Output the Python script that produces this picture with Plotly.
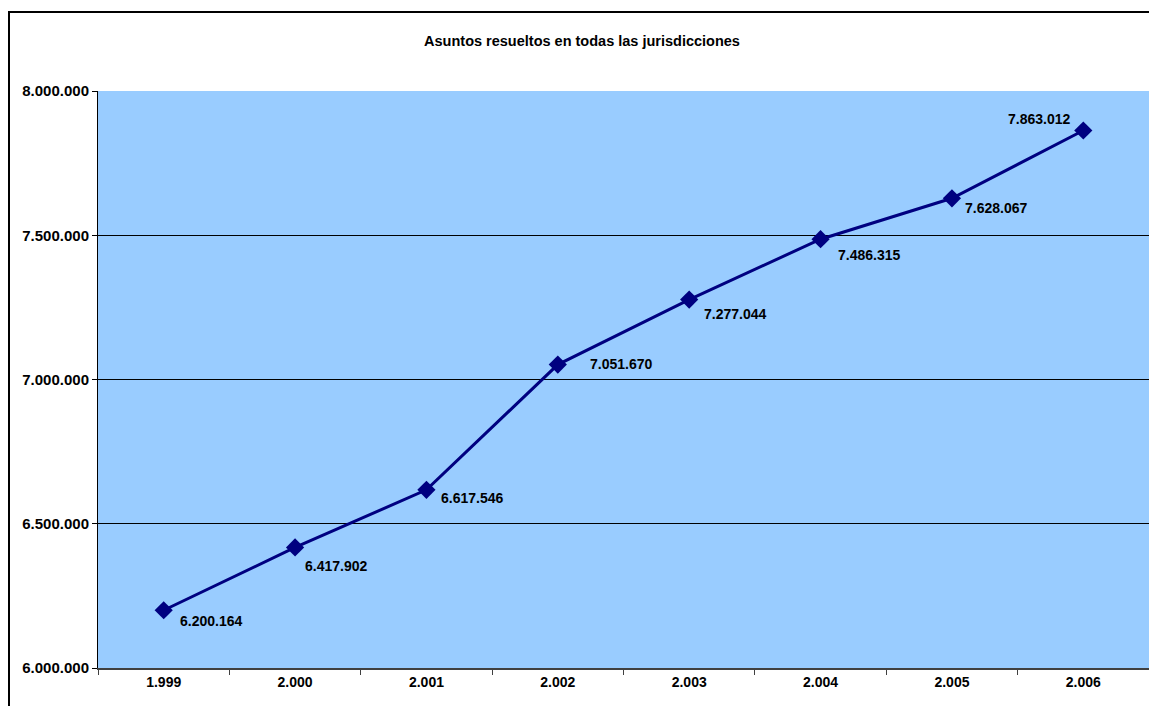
import plotly.graph_objects as go

years = ["1.999", "2.000", "2.001", "2.002", "2.003", "2.004", "2.005", "2.006"]
values = [6200164, 6417902, 6617546, 7051670, 7277044, 7486315, 7628067, 7863012]
y_ticks = [6000000, 6500000, 7000000, 7500000, 8000000]
y_tick_labels = ["6.000.000", "6.500.000", "7.000.000", "7.500.000", "8.000.000"]
title_text = "Asuntos resueltos en todas las jurisdicciones"

# label placement (pixel offsets from each point), style only
label_dx = [14, 8, 13, 30, 13, 15, 11, -11]
label_dy = [11, 19, 8, -1, 14, 16, 10, -12]
label_anchor = ["left"] * 7 + ["right"]


def fmt(v):
    return f"{v:,}".replace(",", ".")


labels = [fmt(v) for v in values]

FONT = "Liberation Sans, Arial"
W, H = 1149, 706
L, T = 98, 91
R = 0
B = H - 668
PW = W - L - R
PH = H - T - B

fig = go.Figure()
fig.add_trace(go.Scatter(
    x=years, y=values, mode="lines+markers",
    line=dict(color="#000080", width=3),
    marker=dict(symbol="diamond", size=14, color="#000080"),
    cliponaxis=False, showlegend=False, hoverinfo="skip",
))

for i, (v, lab, dx, dy, anc) in enumerate(zip(values, labels, label_dx, label_dy, label_anchor)):
    fig.add_annotation(x=i, y=v, xref="x", yref="y", text="<b>%s</b>" % lab, showarrow=False,
                       xanchor=anc, yanchor="middle", xshift=dx, yshift=-dy,
                       font=dict(family=FONT, size=14, color="black"))

fig.update_layout(
    width=W, height=H,
    margin=dict(l=L, r=R, t=T, b=B),
    paper_bgcolor="white", plot_bgcolor="#99CCFF",
    title=dict(text="<b>" + title_text + "</b>", x=582 / W, xanchor="center",
               y=1 - 41 / H, yanchor="middle",
               font=dict(family=FONT, size=14.5, color="black")),
    font=dict(family=FONT, size=14, color="black"),
    xaxis=dict(type="category", showgrid=False, showline=True, linecolor="#404040", linewidth=2,
               ticks="outside", tickson="boundaries", ticklen=5, tickcolor="#404040",
               tickvals=years, ticktext=["<b>%s</b>" % y for y in years],
               tickfont=dict(family=FONT, size=14, color="black"),
               range=[-0.5, 7.5], zeroline=False),
    yaxis=dict(range=[6000000, 8000000], tickvals=y_ticks, ticktext=["<b>%s</b>" % t for t in y_tick_labels],
               showgrid=True, gridcolor="black", gridwidth=1, showline=True, linecolor="black", linewidth=1,
               ticks="outside", ticklen=5, tickcolor="black", zeroline=False,
               tickfont=dict(family=FONT, size=15, color="black")),
)

fig.add_shape(type="rect", xref="paper", yref="paper",
              x0=(9 - 98) / PW, x1=1.05, y0=-0.2, y1=(668 - 12) / PH,
              line=dict(color="black", width=2), fillcolor="rgba(0,0,0,0)", layer="below")

fig.write_html("out.html", config={"displayModeBar": False},
               post_script="document.body.style.margin='0';document.body.style.overflow='hidden';")
